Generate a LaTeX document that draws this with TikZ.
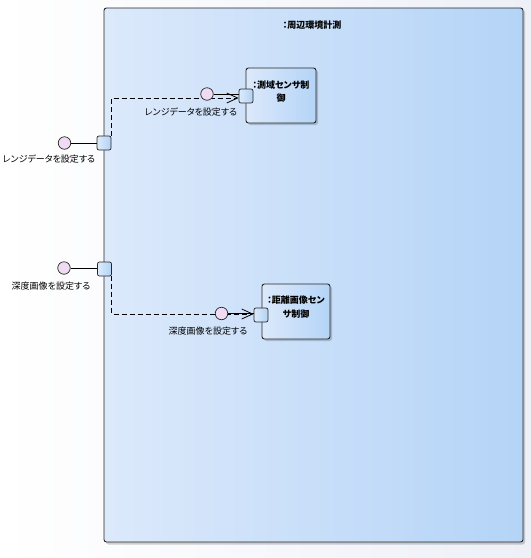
\documentclass[tikz,border=0pt]{standalone}
\usepackage{fontspec}
\setmainfont[RawFeature=+palt]{Noto Sans CJK JP}
\usetikzlibrary{arrows.meta,calc}
\definecolor{boxL}{HTML}{DCE9FB}
\definecolor{boxR}{HTML}{B4D4F7}
\definecolor{portL}{HTML}{DDEBFB}
\definecolor{portR}{HTML}{B2D2F4}
\definecolor{lolli}{HTML}{F0DCF2}
\definecolor{bgR}{HTML}{EDF0F7}
\tikzset{
  comp/.style={draw=black!85, line width=0.9pt, rounded corners=2.5pt, left color=boxL, right color=boxR},
  compshadow/.style={fill=black, opacity=0.18, rounded corners=2.5pt},
  portbox/.style={draw=black!85, line width=0.7pt, rounded corners=2pt, minimum size=14pt, inner sep=0pt,
    left color=portL, right color=portR},
  lolly/.style={circle, draw=black!85, line width=0.7pt, fill=lolli, minimum size=12.5pt, inner sep=0pt},
  plabel/.style={font=\fontsize{9}{10}\selectfont, inner sep=0pt},
  ctitle/.style={font=\bfseries\fontsize{9}{13.5}\selectfont, align=center, inner sep=0pt},
  link/.style={line width=0.8pt, black},
  delegate/.style={line width=0.8pt, black, dash pattern=on 5pt off 3pt, -{Straight Barb[length=11pt,width=10pt,line width=0.8pt]}}
}
\begin{document}
\begin{tikzpicture}[x=1pt,y=-1pt]
\useasboundingbox (0,0) rectangle (531,558);
\shade[left color=white, right color=bgR] (0,0) rectangle (531,558);
% outer component
\path[compshadow] (106,10) rectangle (525,544.5);
\path[comp] (104,8) rectangle (523,542);
\node[ctitle] (T) at (312,25) {：周辺環境計測};
% inner components
\path[compshadow] (248,70) rectangle (318,125);
\path[comp] (246,68) rectangle (316,123);
\node[ctitle] (C1) at (281,91.5) {：測域センサ制\\御};
\path[compshadow] (264,286) rectangle (332,341);
\path[comp] (262,284) rectangle (330,339);
\node[ctitle] (C2) at (296,307) {：距離画像セン\\サ制御};
% outer ports
\node[portbox] (P1) at (104,143) {};
\node[portbox] (P2) at (104.5,269) {};
% inner ports
\node[portbox] (Q1) at (246,96) {};
\node[portbox] (Q2) at (261,315) {};
% delegation connectors
\coordinate (D1) at ($(Q1.west)+(0,2)$);
\coordinate (D2) at ($(Q2.west)+(0,-1)$);
\draw[delegate] (P1.north east) |- (D1);
\draw[delegate] (P2.south east) |- (D2);
% lollipops
\node[lolly] (E1) at (64.5,143) {};
\node[lolly] (E2) at (64,268) {};
\draw[link] (E1) -- (P1);
\draw[link] (E2) -- (E2 -| P2.west);
\node[lolly] (I1) at (207,94) {};
\node[lolly] (I2) at (221.5,313.5) {};
\draw[link] (I1) -- (I1 -| Q1.west);
\draw[link] (I2) -- (I2 -| Q2.west);
\node[plabel] (LE1) at (49,159) {レンジデータを設定する};
\node[plabel] (LE2) at (51,286) {深度画像を設定する};
\node[plabel] (LI1) at (191,112) {レンジデータを設定する};
\node[plabel] (LI2) at (208,331) {深度画像を設定する};
\end{tikzpicture}
\end{document}
